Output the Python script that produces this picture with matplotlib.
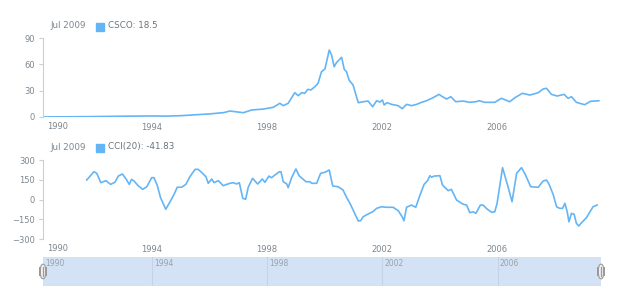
import matplotlib
matplotlib.use('Agg')
import matplotlib.pyplot as plt
from matplotlib.patches import FancyBboxPatch, Rectangle

# CSCO close (decimal year, value)
csco_t = [1990.2, 1991.0, 1992.0, 1993.0, 1994.0, 1994.5, 1995.0, 1995.5, 1996.0, 1996.5,
          1996.71, 1997.18, 1997.47, 1997.87, 1998.22, 1998.45, 1998.57, 1998.74, 1998.97, 1999.09,
          1999.21, 1999.32, 1999.42, 1999.53, 1999.67, 1999.78, 1999.90, 2000.02, 2000.17, 2000.25,
          2000.34, 2000.42, 2000.60, 2000.69, 2000.77, 2000.86, 2000.95, 2001.00, 2001.10, 2001.18,
          2001.35, 2001.52, 2001.68, 2001.82, 2001.93, 2002.02, 2002.08, 2002.18, 2002.34, 2002.57,
          2002.71, 2002.86, 2003.03, 2003.21, 2003.38, 2003.56, 2003.78, 2003.99, 2004.11, 2004.25,
          2004.40, 2004.57, 2004.83, 2005.06, 2005.29, 2005.38, 2005.58, 2005.93, 2006.16, 2006.45,
          2006.63, 2006.89, 2007.15, 2007.44, 2007.61, 2007.73, 2007.90, 2008.10, 2008.34, 2008.48,
          2008.60, 2008.77, 2009.06, 2009.26, 2009.47, 2009.55]
csco_v = [0.1, 0.2, 0.5, 0.9, 1.2, 1.0, 1.5, 2.5, 3.5, 5.0,
          6.8, 4.9, 8.0, 9.0, 11.0, 15.6, 12.9, 15.6, 27.7, 24.3,
          27.7, 27.0, 31.5, 30.8, 34.5, 38.4, 51.6, 54.7, 76.3, 70.6,
          57.3, 61.9, 68.0, 54.4, 51.6, 42.0, 38.4, 36.4, 25.0, 16.3,
          17.4, 18.2, 11.7, 18.6, 17.0, 19.4, 13.7, 16.3, 14.4, 12.9,
          9.5, 14.4, 12.9, 14.4, 16.7, 18.6, 22.0, 25.8, 23.1, 20.5,
          23.1, 17.4, 18.2, 16.7, 17.5, 18.6, 16.7, 16.7, 21.3, 17.4,
          22.0, 27.0, 25.0, 27.7, 31.9, 32.7, 25.8, 23.9, 25.8, 21.3,
          23.1, 16.7, 14.0, 17.9, 18.3, 18.5]

# CCI(20)
cci_t = [1991.73, 1991.98, 1992.08, 1992.22, 1992.40, 1992.56, 1992.71, 1992.83, 1992.97, 1993.10,
         1993.21, 1993.29, 1993.38, 1993.52, 1993.68, 1993.82, 1993.99, 1994.07, 1994.18, 1994.30,
         1994.48, 1994.63, 1994.77, 1994.88, 1995.03, 1995.18, 1995.32, 1995.50, 1995.61, 1995.76,
         1995.88, 1995.96, 1996.08, 1996.16, 1996.31, 1996.48, 1996.71, 1996.83, 1996.95, 1997.04,
         1997.16, 1997.26, 1997.35, 1997.50, 1997.68, 1997.84, 1997.93, 1998.07, 1998.16, 1998.43,
         1998.49, 1998.57, 1998.69, 1998.74, 1998.86, 1999.01, 1999.12, 1999.36, 1999.50, 1999.56,
         1999.73, 1999.87, 2000.02, 2000.17, 2000.29, 2000.48, 2000.65, 2000.77, 2000.89, 2001.00,
         2001.18, 2001.26, 2001.35, 2001.52, 2001.68, 2001.82, 2001.99, 2002.16, 2002.39, 2002.57,
         2002.69, 2002.77, 2002.86, 2003.03, 2003.18, 2003.32, 2003.47, 2003.59, 2003.67, 2003.73,
         2003.82, 2004.02, 2004.11, 2004.31, 2004.42, 2004.60, 2004.83, 2004.95, 2005.06, 2005.18,
         2005.27, 2005.43, 2005.52, 2005.66, 2005.82, 2005.93, 2006.01, 2006.20, 2006.39, 2006.53,
         2006.69, 2006.86, 2007.00, 2007.18, 2007.44, 2007.61, 2007.73, 2007.82, 2007.96, 2008.08,
         2008.19, 2008.29, 2008.37, 2008.45, 2008.51, 2008.60, 2008.69, 2008.77, 2008.85, 2008.95,
         2009.12, 2009.23, 2009.35, 2009.49]
cci_v = [148, 211, 199, 128, 143, 115, 131, 178, 194, 156,
         115, 153, 140, 105, 77, 97, 166, 166, 110, 14,
         -74, -17, 39, 93, 93, 115, 173, 229, 229, 199,
         173, 123, 156, 128, 143, 105, 123, 128, 118, 128,
         9, 2, 93, 161, 118, 156, 131, 178, 166, 211,
         211, 135, 118, 90, 166, 232, 181, 135, 135, 123,
         123, 199, 207, 224, 103, 97, 72, 17, -29, -80,
         -163, -161, -131, -110, -93, -67, -55, -59, -59, -85,
         -125, -161, -59, -42, -59, 29, 115, 143, 181, 169,
         178, 181, 110, 67, 77, -4, -36, -42, -100, -93,
         -105, -42, -42, -72, -97, -93, -29, 242, 97, -17,
         199, 242, 186, 97, 93, 140, 148, 115, 39, -55,
         -67, -67, -29, -93, -169, -105, -112, -181, -201, -176,
         -138, -97, -55, -41.83]

year_ticks = [1994, 1998, 2002, 2006]
scroll_ticks = [1990, 1994, 1998, 2002, 2006]
x_min, x_max = 1990.21, 2009.59

line_col = '#64b5f6'
lab_col = '#7c868e'
axis_col = '#cecece'

fig = plt.figure(figsize=(6.2, 3.0), dpi=100)


def style_axes(ax, yticks):
    for s in ['top', 'right', 'bottom']:
        ax.spines[s].set_visible(False)
    ax.spines['left'].set_color(axis_col)
    ax.spines['left'].set_linewidth(0.8)
    ax.set_xlim(x_min, x_max)
    ax.set_yticks(yticks)
    ax.set_xticks(year_ticks)
    ax.set_xticklabels([str(y) for y in year_ticks])
    ax.tick_params(axis='y', colors=axis_col, labelcolor=lab_col, labelsize=6,
                   length=3, width=0.8, pad=3)
    ax.tick_params(axis='x', length=0, labelcolor=lab_col, labelsize=6, pad=4)
    ax.text(0.007, -0.115, '1990', transform=ax.transAxes, fontsize=6,
            color=lab_col, ha='left', va='center')


# price chart
ax1 = fig.add_axes([0.0694, 0.61, 0.8983, 0.2633])
ax1.plot(csco_t, csco_v, color=line_col, lw=1.2)
ax1.set_ylim(0, 90)
style_axes(ax1, [0, 30, 60, 90])

# CCI chart
ax2 = fig.add_axes([0.0694, 0.2033, 0.8983, 0.2633])
ax2.plot(cci_t, cci_v, color=line_col, lw=1.2)
ax2.set_ylim(-300, 300)
style_axes(ax2, [-300, -150, 0, 150, 300])

# legends
fig.text(50 / 620, 1 - 26 / 300, 'Jul 2009', fontsize=6.3, color=lab_col, va='center')
fig.patches.append(Rectangle((96 / 620, 1 - 30.5 / 300), 8 / 620, 8 / 300,
                             transform=fig.transFigure, color=line_col))
fig.text(108 / 620, 1 - 26 / 300, 'CSCO: 18.5', fontsize=6.3, color='#6b747c', va='center')

fig.text(50 / 620, 1 - 147 / 300, 'Jul 2009', fontsize=6.3, color=lab_col, va='center')
fig.patches.append(Rectangle((96 / 620, 1 - 151.5 / 300), 8 / 620, 8 / 300,
                             transform=fig.transFigure, color=line_col))
fig.text(108 / 620, 1 - 147 / 300, 'CCI(20): -41.83', fontsize=6.3, color='#6b747c', va='center')

# scroller
ax3 = fig.add_axes([0.0694, 0.0467, 0.9, 0.0967])
ax3.set_xlim(x_min, x_max)
ax3.set_ylim(0, 1)
ax3.axis('off')
ax3.add_patch(Rectangle((x_min, 0), x_max - x_min, 1, color='#d3e2f4', lw=0))
ax3.axhline(0, color='#dcdcdc', lw=1)
for y in scroll_ticks:
    if y > x_min:
        ax3.axvline(y, color='#c4d3e6', lw=0.8)
    ax3.text(max(y, x_min) + 0.08, 0.78, str(y), fontsize=5.5, color='#9aa3ab',
             ha='left', va='center')
for hx in [x_min, x_max]:
    ax3.add_patch(FancyBboxPatch((hx - 0.11, 0.25), 0.22, 0.5,
                                 boxstyle='round,pad=0,rounding_size=0.1',
                                 fc='#f2f2f2', ec='#9a9a9a', lw=0.8,
                                 mutation_aspect=4, clip_on=False))
    ax3.plot([hx, hx], [0.36, 0.64], color='#9a9a9a', lw=0.9, clip_on=False)

fig.savefig('out.png', dpi=100)
